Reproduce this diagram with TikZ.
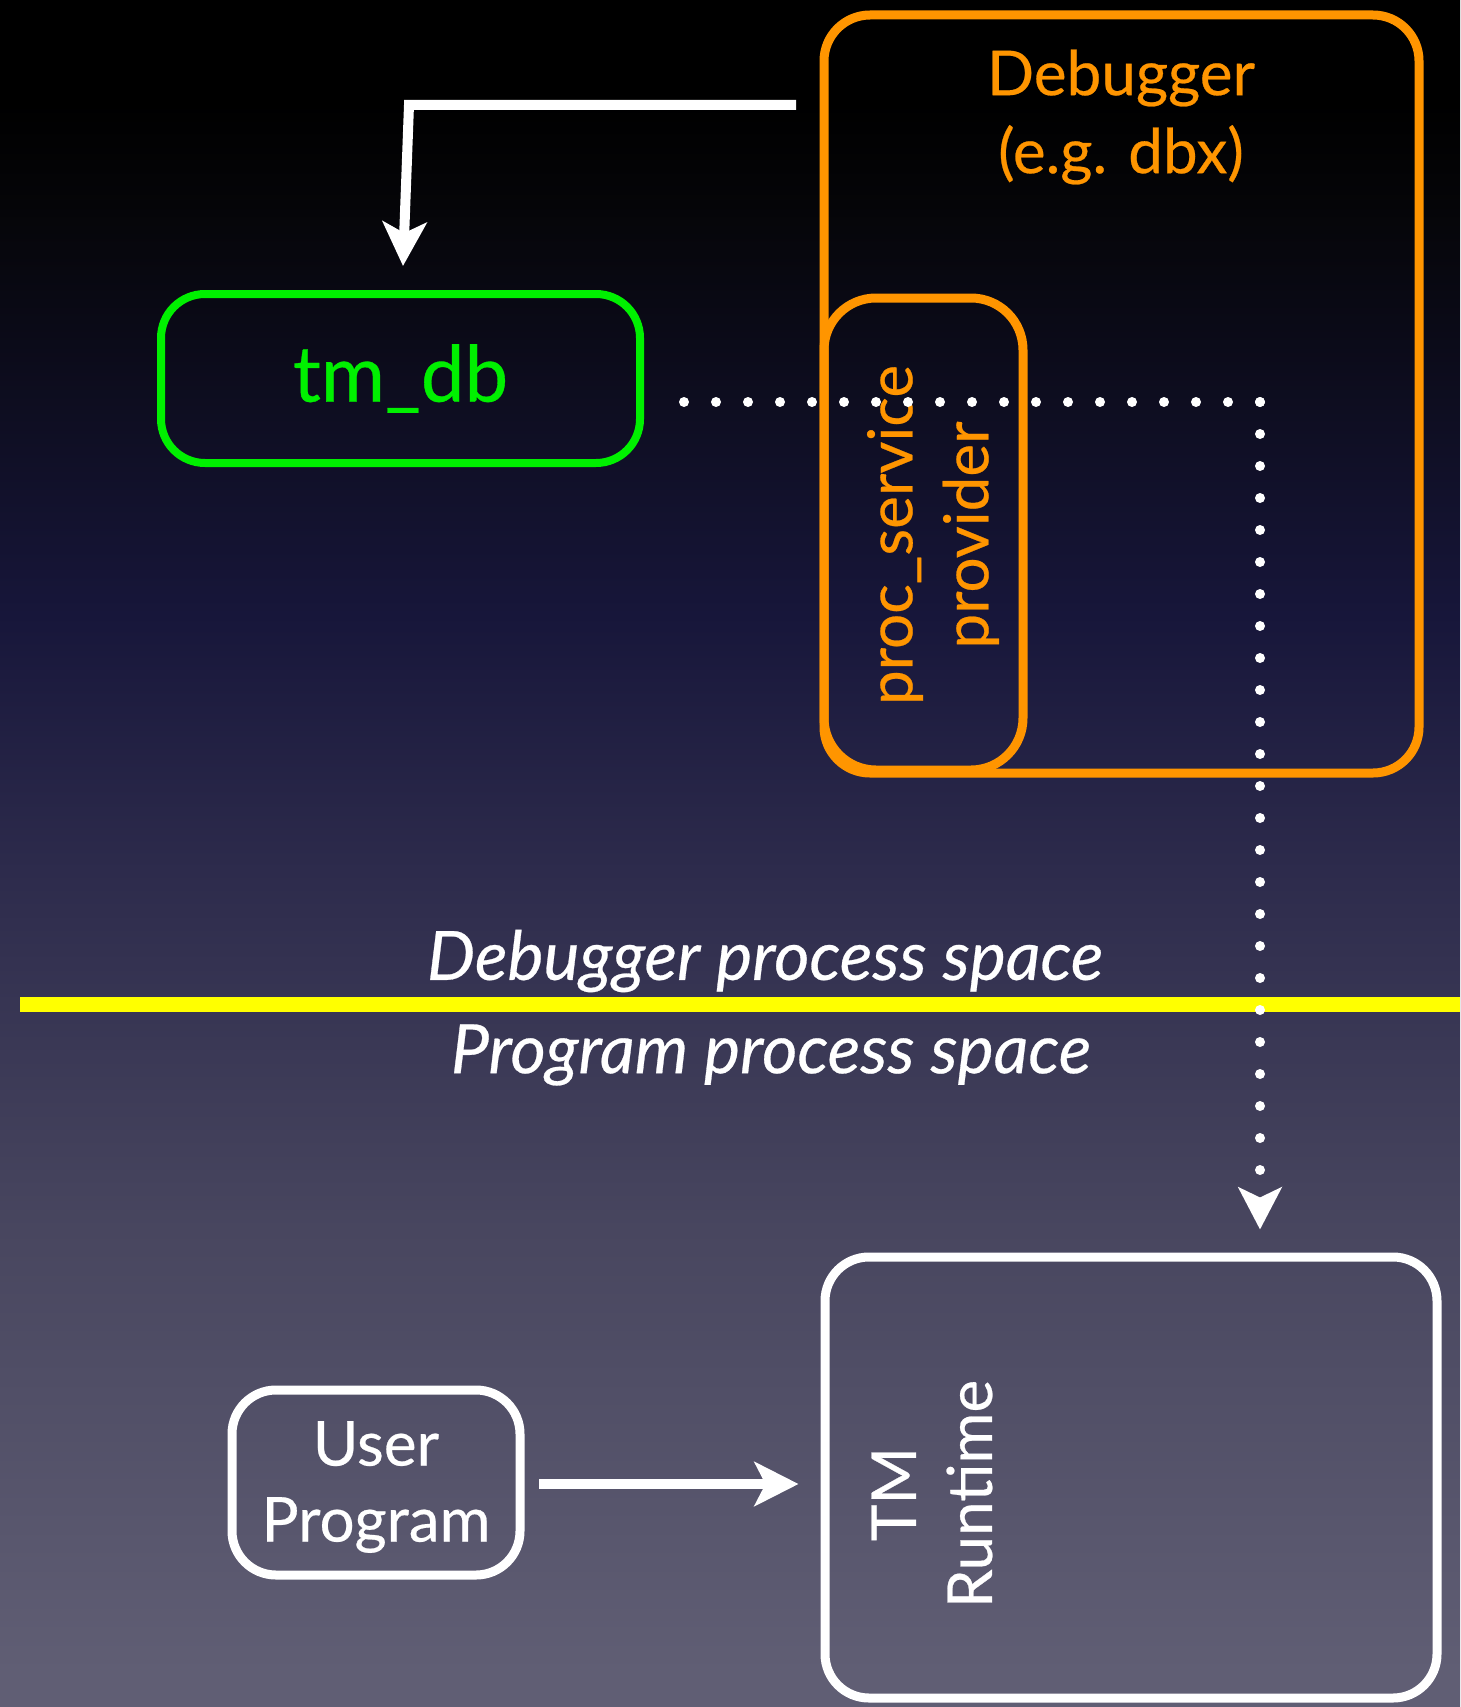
\documentclass[tikz,border=0pt]{standalone}
\usepackage{fontspec}
\setmainfont{Lato}[FakeBold=0.4]
\usetikzlibrary{arrows.meta,calc}
\definecolor{bgA}{HTML}{000000}
\definecolor{bgB}{HTML}{050508}
\definecolor{bgC}{HTML}{17163A}
\definecolor{bgD}{HTML}{2D2B4C}
\definecolor{bgE}{HTML}{48465F}
\definecolor{bgF}{HTML}{605E74}
\definecolor{dbgorange}{HTML}{FF9500}
\definecolor{dbgreen}{HTML}{00F000}
\definecolor{spaceyellow}{HTML}{FFFF00}
\pgfdeclareverticalshading{bgshade}{100bp}{%
  color(0bp)=(bgF); color(26bp)=(bgF); color(39bp)=(bgE); color(49.5bp)=(bgD);
  color(57bp)=(bgC); color(69bp)=(bgB); color(72bp)=(bgA); color(100bp)=(bgA)}
\tikzset{
  bigfont/.style={font=\fontsize{62}{76}\selectfont},
  orangebox/.style={draw=dbgorange, line width=9pt, rounded corners=46pt},
  greenbox/.style={draw=dbgreen, line width=8pt, rounded corners=44pt},
  whitebox/.style={draw=white, line width=9pt, rounded corners=44pt},
  bigarrow/.style={draw=white, line width=10pt, -{Stealth[length=44pt,width=44pt,inset=11pt]}},
  dotline/.style={draw=white, line width=10pt, line cap=round, dash pattern=on 0pt off 32pt},
  dotarrow/.style={dotline, -{Stealth[length=42pt,width=43pt,inset=10pt]}},
  spacefont/.style={font=\fontsize{68}{80}\selectfont\itshape},
}
\begin{document}
\begin{tikzpicture}[x=1pt,y=-1pt]
\path[shading=bgshade] (0,0) rectangle (1460,1707);
\useasboundingbox (0,0) rectangle (1460,1707);

% Debugger box
\node[orangebox, minimum width=595pt, minimum height=758pt] (dbg) at (1121.5,394) {};
\node[font=\fontsize{62}{78}\selectfont, text=dbgorange, align=center] (dbgtxt) at (1121,117) {Debugger\\(e.g. dbx)};
% proc_service provider box
\node[orangebox, rounded corners=52pt, minimum width=199pt, minimum height=472pt] (proc) at (923.5,534) {};
\node[bigfont, text=dbgorange, align=center, rotate=90] (proctxt) at (933,535) {proc\_service\\provider};

% tm_db box
\node[greenbox, font=\fontsize{78}{80}\selectfont, text=dbgreen, minimum width=479pt, minimum height=169pt] (tmdb) at (400.5,378.5) {\raisebox{-7pt}{tm\_db}};

% User Program box
\node[whitebox, align=center, minimum width=288pt, minimum height=185pt] (user) at (376,1482.5) {};
\node[bigfont, text=white, align=center] (usertxt) at (376,1487) {User\\Program};

% TM Runtime box
\node[whitebox, minimum width=612pt, minimum height=441pt] (tmrt) at (1131,1477.5) {};
\node[bigfont, text=white, align=center, rotate=90] (tmrttxt) at (932,1494) {TM\\Runtime};

% separator
\coordinate (sepL) at (20,1004);
\coordinate (sepR) at (1460,1004);
\draw[spaceyellow, line width=15pt] (sepL) -- (sepR);
\node[spacefont, text=white] (dps) at (765,961) {Debugger process space};
\node[spacefont, text=white] (pps) at (771,1055) {Program process space};

% arrows
\coordinate (a1) at (796,105);
\coordinate (a2) at (409,105);
\draw[bigarrow] (a1) -- (a2) -- ($(tmdb.north)+(2.5,-24)$);
\draw[bigarrow] ($(user.east)+(14.5,1.5)$) -- ($(tmrt.west)+(-22,6.5)$);

% dotted connection
\coordinate (d1) at ($(tmdb.east)+(40,23.5)$);
\coordinate (d2) at (1292,402);
\coordinate (d3) at (1260,402);
\draw[dotline] (d1) -- (d2);
\draw[dotarrow] (d3) -- ($(tmrt.north -| d3)+(0,-23)$);
\end{tikzpicture}
\end{document}
